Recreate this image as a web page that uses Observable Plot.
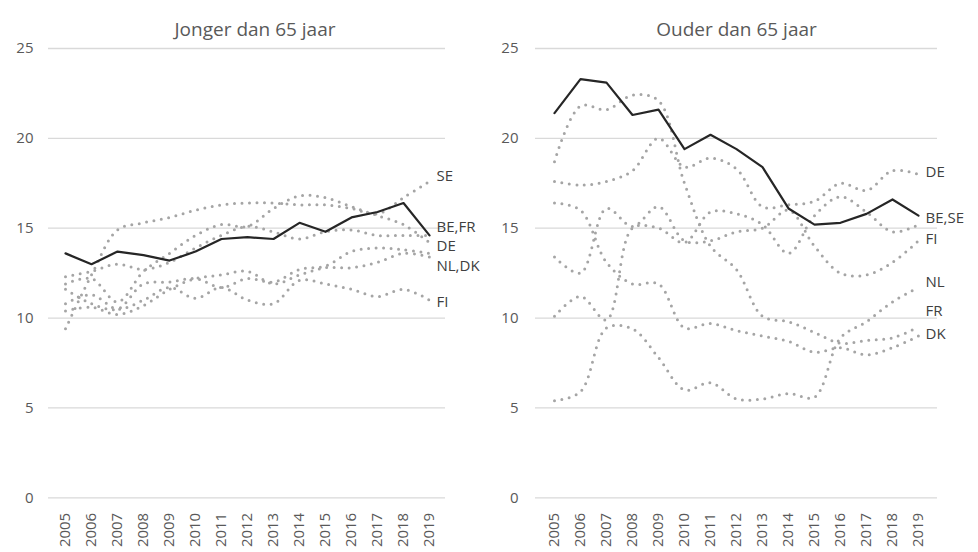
<!DOCTYPE html>
<html><head><meta charset="utf-8">
<script src="https://cdn.jsdelivr.net/npm/d3@7"></script>
<script src="https://cdn.jsdelivr.net/npm/@observablehq/plot@0.6"></script>
<style>
body{margin:0;background:#fff;font-family:"Open Sans",sans-serif;}
#wrap{position:relative;width:978px;height:552px;overflow:hidden;background:#fff}
#left,#right{position:absolute;top:0}
#left{left:0}
#right{left:489px}
</style></head><body>
<div id="wrap"><div id="left"></div><div id="right"></div></div>
<script>
// ---- data ----
const years = ["2005","2006","2007","2008","2009","2010","2011","2012","2013","2014","2015","2016","2017","2018","2019"];
const yTicks = [0, 5, 10, 15, 20, 25];
const titles = ["Jonger dan 65 jaar", "Ouder dan 65 jaar"];

// Jonger dan 65 jaar
const youngBE = [13.6, 13.0, 13.7, 13.5, 13.2, 13.7, 14.4, 14.5, 14.4, 15.3, 14.8, 15.6, 15.9, 16.4, 14.6];
const youngSE = [9.4, 12.4, 14.9, 15.3, 15.6, 16.0, 16.3, 16.4, 16.4, 16.3, 16.3, 16.1, 15.8, 16.7, 17.6];
const youngDE = [11.9, 12.2, 10.9, 12.6, 13.6, 14.6, 15.2, 15.1, 16.1, 16.8, 16.7, 16.2, 15.7, 15.2, 14.2];
const youngFR = [12.3, 12.6, 13.0, 12.7, 13.1, 13.9, 14.6, 15.1, 14.8, 14.4, 14.8, 14.9, 14.6, 14.6, 14.6];
const youngNL = [11.6, 10.8, 10.5, 11.9, 12.0, 12.2, 11.7, 12.2, 12.0, 12.7, 12.9, 13.7, 13.9, 13.8, 13.6];
const youngDK = [10.4, 10.6, 10.2, 10.7, 11.6, 12.2, 12.4, 12.6, 11.9, 12.4, 12.8, 12.8, 13.1, 13.6, 13.4];
const youngFI = [10.8, 11.3, 10.5, 11.0, 11.7, 11.1, 11.7, 11.0, 10.8, 12.1, 11.9, 11.6, 11.2, 11.6, 11.0];
const youngLabels = ["SE", "BE,FR", "DE", "NL,DK", "FI"];
const youngLabelValues = [17.9, 15.05, 14.0, 12.9, 10.9];

// Ouder dan 65 jaar
const oldBE = [21.4, 23.3, 23.1, 21.3, 21.6, 19.4, 20.2, 19.4, 18.4, 16.1, 15.2, 15.3, 15.8, 16.6, 15.7];
const oldDE = [17.6, 17.4, 17.6, 18.2, 20.0, 18.4, 18.9, 18.3, 16.2, 16.3, 16.5, 17.5, 17.1, 18.2, 18.0];
const oldFR = [18.7, 21.8, 21.6, 22.4, 22.1, 17.5, 14.0, 12.7, 10.1, 9.8, 9.2, 8.6, 8.75, 8.9, 9.5];
const oldDK = [16.4, 16.0, 13.1, 11.9, 11.9, 9.45, 9.7, 9.3, 9.0, 8.7, 8.1, 8.35, 7.95, 8.35, 9.0];
const oldNL = [5.4, 5.9, 9.45, 9.4, 7.8, 6.0, 6.4, 5.5, 5.5, 5.8, 5.6, 8.9, 9.8, 10.9, 11.7];
const oldSE = [10.1, 11.2, 9.9, 15.0, 15.0, 14.2, 15.9, 15.8, 15.2, 13.6, 15.7, 16.75, 15.9, 14.8, 15.2];
const oldFI = [13.4, 12.5, 16.1, 15.1, 16.2, 14.3, 14.3, 14.8, 15.0, 16.0, 14.0, 12.5, 12.4, 13.1, 14.3];
const oldLabels = ["DE", "BE,SE", "FI", "NL", "FR", "DK"];
const oldLabelValues = [18.1, 15.55, 14.4, 12.0, 10.4, 9.1];

// ---- build ----
function rows(obj) {
  const out = [];
  for (const [c, vals] of Object.entries(obj)) vals.forEach((v, i) => out.push({country: c, year: years[i], value: v}));
  return out;
}

function panel({title, main, others, labels, labelValues, ml, mr, pad, tdx}) {
  const labelRows = labels.map((t, i) => ({t, v: labelValues[i]}));
  return Plot.plot({
    width: 489, height: 552,
    marginLeft: ml, marginRight: mr, marginTop: 48, marginBottom: 54.7,
    style: {fontFamily: '"Open Sans", sans-serif', fontSize: "15px", color: "#595959", background: "transparent", overflow: "visible"},
    x: {type: "point", domain: years, padding: 0.5},
    y: {domain: [0, 25]},
    marks: [
      Plot.ruleY(yTicks, {stroke: "#d9d9d9", strokeWidth: 1.3}),
      Plot.axisY({ticks: yTicks, tickSize: 0, tickPadding: pad, label: null, fontSize: 15}),
      Plot.axisX({tickRotate: -90, tickSize: 0, tickPadding: 15, label: null, fontSize: 15}),
      Plot.line(rows(others), {x: "year", y: "value", z: "country", stroke: "#a5a5a5", strokeWidth: 3,
        strokeDasharray: "0 7.5", strokeLinecap: "round", curve: "catmull-rom"}),
      Plot.line(rows(main), {x: "year", y: "value", stroke: "#262626", strokeWidth: 2.2}),
      Plot.text(labelRows, {x: () => years[years.length - 1], y: "v", text: "t", dx: 7,
        textAnchor: "start", fill: "#404040", fontSize: 15}),
      Plot.text([title], {frameAnchor: "top", dy: -26, dx: tdx, fontSize: 19, fill: "#595959"})
    ]
  });
}

document.getElementById("left").append(panel({
  title: titles[0],
  main: {BE: youngBE},
  others: {SE: youngSE, DE: youngDE, FR: youngFR, NL: youngNL, DK: youngDK, FI: youngFI},
  labels: youngLabels, labelValues: youngLabelValues,
  ml: 48, mr: 44, pad: 15, tdx: 8
}));
document.getElementById("right").append(panel({
  title: titles[1],
  main: {BE: oldBE},
  others: {DE: oldDE, FR: oldFR, DK: oldDK, NL: oldNL, SE: oldSE, FI: oldFI},
  labels: oldLabels, labelValues: oldLabelValues,
  ml: 46, mr: 41, pad: 17, tdx: 0
}));
</script>
</body></html>
